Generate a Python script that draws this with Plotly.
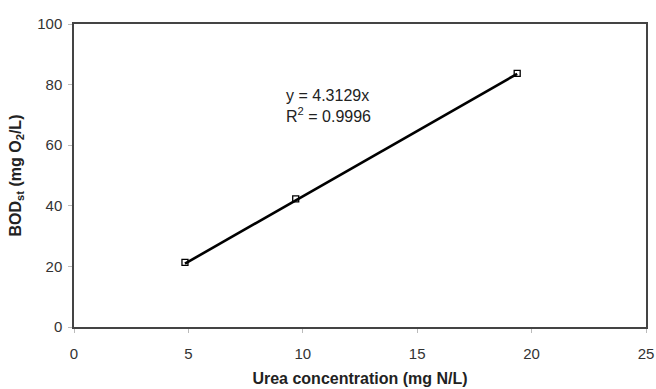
import plotly.graph_objects as go

# Data
urea_conc = [4.85, 9.69, 19.37]
bod_st = [21.3, 42.3, 83.7]
slope = 4.3129
r_squared = 0.9996
x_ticks = [0, 5, 10, 15, 20, 25]
y_ticks = [0, 20, 40, 60, 80, 100]

trend_x = [min(urea_conc), max(urea_conc)]
trend_y = [slope * v for v in trend_x]

font_family = "Liberation Sans, Arial, sans-serif"

fig = go.Figure()
fig.add_trace(go.Scatter(
    x=urea_conc, y=bod_st, mode="markers",
    marker=dict(symbol="square-open", size=6, color="black", line=dict(width=1.3, color="black")),
    showlegend=False, cliponaxis=False,
))
fig.add_trace(go.Scatter(
    x=trend_x, y=trend_y, mode="lines",
    line=dict(color="black", width=2.6),
    showlegend=False,
))

fig.add_annotation(
    x=0.367, y=0.728, xref="paper", yref="paper", xanchor="left", yanchor="middle",
    text=f"y = {slope}x<br>R<sup>2</sup> = {r_squared}", align="left", showarrow=False,
    font=dict(family=font_family, size=16, color="#222"),
)

axis_common = dict(
    showgrid=False, zeroline=False, showline=True, linecolor="#444", linewidth=1.5,
    mirror=True, ticks="outside", ticklen=4, tickcolor="#bbb", tickwidth=1,
    tickfont=dict(family=font_family, size=15, color="#333"),
)

fig.update_xaxes(
    range=[0, 25], tickvals=x_ticks, **axis_common,
    ticklabelstandoff=8,
    title=dict(text="<b>Urea concentration (mg N/L)</b>", standoff=12,
               font=dict(family=font_family, size=16, color="#222")),
)
fig.update_yaxes(
    range=[0, 100], tickvals=y_ticks, **axis_common,
    ticklabelstandoff=3,
    title=dict(text="<b>BOD<sub>st</sub> (mg O<sub>2</sub>/L)</b>", standoff=12,
               font=dict(family=font_family, size=16, color="#222")),
)

fig.update_layout(
    width=656, height=389,
    margin=dict(l=74, r=10, t=24, b=62, autoexpand=False),
    paper_bgcolor="white", plot_bgcolor="white",
)

fig.write_html("out.html")
